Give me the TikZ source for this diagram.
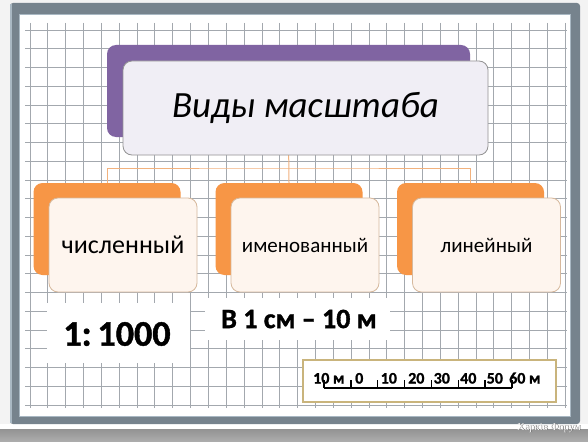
\documentclass[tikz,border=0pt]{standalone}
\usepackage{fontspec}
\setmainfont{Carlito}
\newfontfamily\heavyfont{Carlito Bold}[FakeBold=1.2]
\newfontfamily\wmfont{Liberation Serif}
\definecolor{bgc}{HTML}{F3F3F3}
\definecolor{framec}{HTML}{76838D}
\definecolor{framelight}{HTML}{A9B8C3}
\definecolor{gridc}{HTML}{A3A8AE}
\definecolor{purp}{HTML}{8064A2}
\definecolor{orng}{HTML}{F79646}
\definecolor{topfront}{HTML}{F0EEF5}
\definecolor{orfront}{HTML}{FEF5EE}
\definecolor{orborder}{HTML}{D6B89C}
\definecolor{connc}{HTML}{F2B27E}
\definecolor{scalebox}{HTML}{C9B47C}
\tikzset{
  backbox/.style={rounded corners=9pt, inner sep=0pt, minimum width=#1, minimum height=92pt},
  purpback/.style={backbox=363pt, fill=purp},
  orback/.style={backbox=147pt, fill=orng},
  topbox/.style={rounded corners=9pt, inner sep=0pt, minimum width=365pt, minimum height=94pt, fill=topfront, draw=gray!85, line width=0.8pt},
  frontbox/.style={rounded corners=9pt, inner sep=0pt, minimum width=148pt, minimum height=94pt, fill=orfront, draw=orborder, line width=0.8pt},
  patch/.style={fill=white, inner sep=0pt},
  conn/.style={draw=connc, line width=1pt},
  boldtxt/.style={inner sep=0pt},
  scalelbl/.style={inner sep=0pt, anchor=base west, font=\heavyfont\fontsize{16}{18}\selectfont},
}
\begin{document}
\begin{tikzpicture}[x=1pt,y=-1pt]
\useasboundingbox (0,0) rectangle (588,441);
\fill[bgc] (0,0) rectangle (588,441);
% tray
\fill[white] (0,424) rectangle (588,429);
\shade[top color=gray!85, bottom color=gray!65] (0,429) rectangle (588,441);
% frame
\fill[framec, rounded corners=3pt] (10,3) rectangle (580,424);
\fill[white] (20,15) rectangle (570,416);
\draw[framelight, line width=1.2pt] (11,4) -- (11,423);
\draw[framelight, line width=1pt] (19.5,14.5) rectangle (570.5,416.5);
% grid
\foreach \i in {0,...,30} \draw[gridc, line width=0.8pt] ({30+17.84*\i},23) -- ({30+17.84*\i},408);
\foreach \j in {0,...,20} \draw[gridc, line width=0.8pt] (25,{30+18.75*\j}) -- (567,{30+18.75*\j});
% white patches behind bottom labels
\node[patch, minimum width=143pt, minimum height=60pt] (p1) at (118.5,333) {};
\node[patch, minimum width=185pt, minimum height=42pt] (p2) at (297.5,319) {};
% back boxes
\node[purpback] (topback) at (288.5,91) {};
\node[orback] (b1back) at (107,229) {};
\node[orback] (b2back) at (289,229) {};
\node[orback] (b3back) at (470.5,229) {};
% connectors
\coordinate (j) at (289,168);
\draw[conn] (topback.south) -- (b2back.north);
\draw[conn] (b1back.north) |- (j) -| (b3back.north);
% front boxes
\node[topbox, font=\itshape\fontsize{37}{44}\selectfont] (top) at (305.5,108) {Виды масштаба};
\node[frontbox, font=\fontsize{26}{30}\selectfont] (b1) at (123,245) {численный};
\node[frontbox, font=\fontsize{21}{25}\selectfont] (b2) at (305,245) {именованный};
\node[frontbox, font=\fontsize{21}{25}\selectfont] (b3) at (486.5,245) {линейный};
% bottom labels
\node[boldtxt, font=\heavyfont\fontsize{36}{40}\selectfont] (t1) at (117,334) {1:\,1000};
\node[boldtxt, font=\heavyfont\fontsize{28}{32}\selectfont] (t2) at (299,319) {В 1 см – 10 м};
% linear scale
\node[draw=scalebox, line width=2pt, fill=white, inner sep=0pt, minimum width=253pt, minimum height=42pt] (sbox) at (429.5,381) {};
\foreach \i in {0,...,7} \coordinate (s\i) at ({324+26.86*\i},388);
\draw[line width=1.8pt] (s0) -- (s7);
\foreach \i in {0,...,7} \draw[line width=1.4pt] (s\i) -- ++(0,-8);
\node[scalelbl] (l0) at (313,383.5) {10 м};
\node[scalelbl] (l1) at (355,383.5) {0};
\node[scalelbl] (l2) at (380.5,383.5) {10};
\node[scalelbl] (l3) at (408,383.5) {20};
\node[scalelbl] (l4) at (433.5,383.5) {30};
\node[scalelbl] (l5) at (460,383.5) {40};
\node[scalelbl] (l6) at (486.5,383.5) {50};
\node[scalelbl] (l7) at (509,383.5) {60 м};
% watermark
\node[inner sep=0pt, text=gray!60!black, font=\wmfont\fontsize{10.5}{12}\selectfont] (wms) at (549.5,428.5) {Харків Форум};
\node[inner sep=0pt, text=white, font=\wmfont\fontsize{10.5}{12}\selectfont] (wm) at (549,428) {Харків Форум};
\end{tikzpicture}
\end{document}
